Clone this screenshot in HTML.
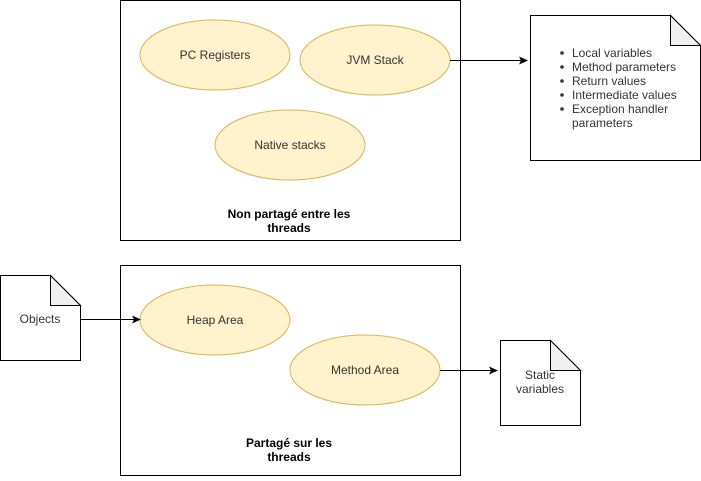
<!DOCTYPE html>
<html><head><style>body{margin:0;background:#fff}</style></head><body>
<svg width="701" height="476" xmlns="http://www.w3.org/2000/svg" font-family="Liberation Sans, sans-serif" font-size="12">
<defs><marker id="a" markerWidth="10" markerHeight="10" refX="8" refY="5" orient="auto" markerUnits="userSpaceOnUse"><path d="M0,1 L9,5 L0,9 L2,5 z" fill="#000"/></marker></defs>
<rect x="120.5" y="0.5" width="340" height="240" fill="#fff" stroke="#000"/>
<rect x="120.5" y="265.5" width="340" height="210" fill="#fff" stroke="#000"/>
<g fill="#fff2cc" stroke="#d6b656">
<ellipse cx="215" cy="55" rx="75" ry="35"/>
<ellipse cx="375" cy="60" rx="75" ry="35"/>
<ellipse cx="290" cy="145" rx="75" ry="35"/>
<ellipse cx="215" cy="320" rx="75" ry="35"/>
<ellipse cx="365" cy="370" rx="75" ry="35"/>
</g>
<g stroke="#000" fill="#fff">
<path d="M530.5,15.5 H670.5 L700.5,45.5 V160.5 H530.5 Z"/>
<path d="M670.5,15.5 V45.5 H700.5 Z" fill="#f0f0f0"/>
<path d="M0.5,275.5 H50.5 L80.5,305.5 V360.5 H0.5 Z"/>
<path d="M50.5,275.5 V305.5 H80.5 Z" fill="#f0f0f0"/>
<path d="M500.5,340.5 H550.5 L580.5,370.5 V425.5 H500.5 Z"/>
<path d="M550.5,340.5 V370.5 H580.5 Z" fill="#f0f0f0"/>
</g>
<g text-anchor="middle" fill="#333">
<text x="215" y="59">PC Registers</text>
<text x="375" y="64">JVM Stack</text>
<text x="290" y="149">Native stacks</text>
<text x="215" y="324">Heap Area</text>
<text x="365" y="374">Method Area</text>
<text x="40" y="323">Objects</text>
<text x="540" y="379">Static</text>
<text x="540" y="393">variables</text>
</g>
<g text-anchor="middle" font-weight="bold" fill="#000">
<text x="289" y="218">Non partagé entre les</text>
<text x="289" y="232">threads</text>
<text x="289" y="447">Partagé sur les</text>
<text x="289" y="461">threads</text>
</g>
<g fill="#333">
<circle cx="562" cy="53" r="1.8"/><circle cx="562" cy="67" r="1.8"/><circle cx="562" cy="81" r="1.8"/><circle cx="562" cy="95" r="1.8"/><circle cx="562" cy="109" r="1.8"/>
<text x="572" y="57">Local variables</text>
<text x="572" y="71">Method parameters</text>
<text x="572" y="85">Return values</text>
<text x="572" y="99">Intermediate values</text>
<text x="572" y="113">Exception handler</text>
<text x="572" y="127">parameters</text>
</g>
<g stroke="#000" marker-end="url(#a)">
<line x1="450" y1="60.5" x2="527" y2="60.5"/>
<line x1="80" y1="319.5" x2="140" y2="319.5"/>
<line x1="440" y1="370.5" x2="497" y2="370.5"/>
</g>
</svg>
</body></html>
